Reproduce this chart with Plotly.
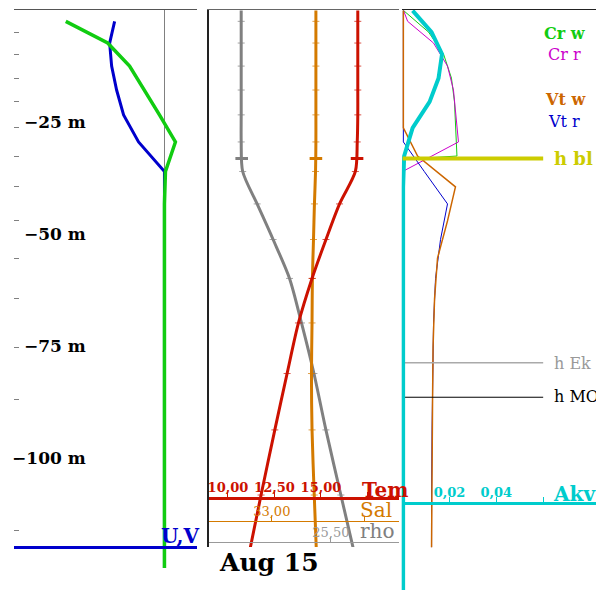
import plotly.graph_objects as go

W, H = 596, 590
SERIF = "DejaVu Serif"

# ---------------- data ----------------
# model layer interfaces / centres (m)
interface_depth = [4.8, 9.7, 15.1, 20.4, 26.2, 32.5, 39.4, 47.0, 55.3, 64.4, 75.2, 87.0, 100.4, 116.1]
center_depth = [2.4, 7.25, 12.4, 17.75, 23.3, 29.35, 35.95, 43.2, 51.15, 59.85, 69.8, 81.1, 93.7, 108.25, 124.55]

# velocities (m/s) at layer centres
u_vel = [-0.050, -0.055, -0.053, -0.048, -0.041, -0.026, 0.0, 0.0, 0.0, 0.0, 0.0, 0.0, 0.0, 0.0, 0.0]
v_vel = [-0.099, -0.057, -0.035, -0.020, -0.005, 0.011, 0.001, 0.0, 0.0, 0.0, 0.0, 0.0, 0.0, 0.0, 0.0]

# temperature / salinity / density, surface + layer centres
ts_depth = [0.0] + center_depth
temp = [16.98, 16.98, 16.98, 16.98, 16.98, 16.98, 16.95, 16.85, 16.00, 15.27, 14.52, 13.79, 13.18, 12.52, 11.78, 10.98]
salt = [33.239, 33.239, 33.239, 33.239, 33.239, 33.239, 33.239, 33.237, 33.231, 33.226, 33.220, 33.218, 33.215, 33.218, 33.230, 33.245]
rho = [24.60, 24.60, 24.60, 24.60, 24.60, 24.60, 24.60, 24.615, 24.76, 24.92, 25.085, 25.205, 25.33, 25.45, 25.60, 25.77]
ts_marker_size = [0] + [5] * 15

# boundary-layer values on the T/S/rho curves
hbl_temp, hbl_salt, hbl_rho = 16.94, 33.239, 24.605

# vertical diffusivity at interfaces
akv_depth = [0.0] + interface_depth + [133.0]
akv = [0.00426, 0.01234, 0.01681, 0.01532, 0.01149, 0.00426, 0.00064,
       0.0002, 0.0002, 0.0002, 0.0002, 0.0002, 0.0002, 0.0002, 0.0002, 0.0002]

crw_depth = [0.0, 4.8, 9.7, 15.1, 20.4, 26.2, 32.5, 33.05, 33.2]
crw = [0.00043, 0.01106, 0.01745, 0.02085, 0.02213, 0.02277, 0.02319, 0.00638, 0.0002]
crr_depth = [0.0, 2.4, 7.25, 12.4, 17.75, 23.3, 29.35, 35.95]
crr = [0.0004, 0.00213, 0.01319, 0.01915, 0.02170, 0.02277, 0.02383, 0.0]
vtw_depth = [0.0, 26.2, 32.5, 39.4, 47.0, 55.3, 64.4, 75.2, 87.0, 100.4, 116.1, 119.9]
vtw = [0.0003, 0.0003, 0.00638, 0.02255, 0.01915, 0.01489, 0.01362, 0.01298, 0.01277, 0.01255, 0.01234, 0.01234]
vtr_depth = [0.0, 29.35, 35.95, 43.2, 51.15, 59.85, 69.8, 81.1, 93.7, 108.25, 119.9]
vtr = [0.0003, 0.0003, 0.00923, 0.01915, 0.01617, 0.01404, 0.01319, 0.01277, 0.01255, 0.01234, 0.01234]

h_bl, h_ek, h_mo = 33.05, 78.7, 86.4
h_line_x = [0.0, 0.06]

depth_labels = [-25, -50, -75, -100]
depth_ticktext = ["\u221225 m", "\u221250 m", "\u221275 m", "\u2212100 m"]
temp_ticks, temp_ticktext = [10.0, 12.5, 15.0, 17.5], ["10,00", "12,50", "15,00", ""]
salt_ticks, salt_ticktext = [33.0, 33.5], ["33,00", ""]
rho_ticks, rho_ticktext = [25.5], ["25,50"]
akv_ticks, akv_ticktext = [0.02, 0.04, 0.06], ["0,02", "0,04", ""]

# ---------------- colours ----------------
RED, ORANGE, GREY = "#cc1100", "#d47a00", "#808080"
BLUE, GREEN, CYAN = "#0000cc", "#11cc11", "#00cccc"
MAGENTA, YELLOW, VTW = "#cc00cc", "#cccc00", "#cc6600"

neg = lambda a: [-v for v in a]

# ---------------- axis ranges ----------------
uv_range = [-0.151, 0.033]
temp_range = [8.998, 19.177]
salt_range = [32.6614, 33.6874]
rho_range = [24.28, 26.18]
akv_range = [-0.000426, 0.082553]
y1_range = [-124.56, 0.134]
y2_range = [-119.866, 0.134]
y3_range = [-129.475, 0.134]

fig = go.Figure()

# panel 1: U, V
fig.add_trace(go.Scatter(x=u_vel, y=neg(center_depth), xaxis="x", yaxis="y", mode="lines",
                         line=dict(color=BLUE, width=3)))
fig.add_trace(go.Scatter(x=[], y=[], xaxis="x", yaxis="y4", mode="lines"))
fig.add_trace(go.Scatter(x=v_vel, y=neg(center_depth), xaxis="x4", yaxis="y", mode="lines",
                         line=dict(color=GREEN, width=3.5)))

# panel 2: rho, S, T
def ts_trace(vals, color, xa):
    return go.Scatter(x=vals, y=neg(ts_depth), xaxis=xa, yaxis="y2", mode="lines+markers",
                      line=dict(color=color, width=3, shape="spline", smoothing=0.8),
                      marker=dict(symbol="line-ew", size=ts_marker_size,
                                  line=dict(color=color, width=1)))

fig.add_trace(go.Scatter(x=[hbl_temp], y=[-h_bl], xaxis="x2", yaxis="y2", mode="markers",
                         marker=dict(symbol="line-ew", size=9, line=dict(color=RED, width=3))))
fig.add_trace(ts_trace(rho, GREY, "x5"))
fig.add_trace(go.Scatter(x=[hbl_rho], y=[-h_bl], xaxis="x5", yaxis="y2", mode="markers",
                         marker=dict(symbol="line-ew", size=9, line=dict(color=GREY, width=3))))
fig.add_trace(ts_trace(salt, ORANGE, "x6"))
fig.add_trace(go.Scatter(x=[hbl_salt], y=[-h_bl], xaxis="x6", yaxis="y2", mode="markers",
                         marker=dict(symbol="line-ew", size=9, line=dict(color=ORANGE, width=3))))
fig.add_trace(ts_trace(temp, RED, "x7"))

# panel 3
fig.add_trace(go.Scatter(x=crw, y=neg(crw_depth), xaxis="x3", yaxis="y3", mode="lines",
                         line=dict(color=GREEN, width=1)))
fig.add_trace(go.Scatter(x=crr, y=neg(crr_depth), xaxis="x3", yaxis="y3", mode="lines",
                         line=dict(color=MAGENTA, width=1)))
fig.add_trace(go.Scatter(x=vtr, y=neg(vtr_depth), xaxis="x3", yaxis="y3", mode="lines",
                         line=dict(color=BLUE, width=1)))
fig.add_trace(go.Scatter(x=vtw, y=neg(vtw_depth), xaxis="x3", yaxis="y3", mode="lines",
                         line=dict(color=VTW, width=1.5)))
fig.add_trace(go.Scatter(x=h_line_x, y=[-h_ek, -h_ek], xaxis="x3", yaxis="y3", mode="lines",
                         line=dict(color="#aaaaaa", width=1.5)))
fig.add_trace(go.Scatter(x=h_line_x, y=[-h_mo, -h_mo], xaxis="x3", yaxis="y3", mode="lines",
                         line=dict(color="black", width=1)))
fig.add_trace(go.Scatter(x=akv, y=neg(akv_depth), xaxis="x8", yaxis="y3", mode="lines",
                         line=dict(color=CYAN, width=4)))
fig.add_trace(go.Scatter(x=h_line_x, y=[-h_bl, -h_bl], xaxis="x8", yaxis="y3", mode="lines",
                         line=dict(color=YELLOW, width=4)))

def hidden(**kw):
    d = dict(showgrid=False, zeroline=False, showticklabels=False, ticks="", fixedrange=True)
    d.update(kw)
    return d

def bottom_axis(over, pos_px, rng, color, width, tickvals, ticktext, bold):
    return dict(overlaying=over, anchor="free", position=(H - pos_px) / H, side="top",
                range=rng, showline=True, linecolor=color, linewidth=width,
                showgrid=False, zeroline=False, fixedrange=True,
                ticks="outside", ticklen=5, tickwidth=1, tickcolor=color,
                ticklabelstandoff=-5,
                tickvals=tickvals, ticktext=ticktext, showticklabels=True,
                tickfont=dict(family=SERIF, size=13, color=color,
                              weight="bold" if bold else "normal"))

top = (H - 10) / H
layout = dict(
    width=W, height=H, autosize=False,
    margin=dict(l=0, r=0, t=0, b=0, pad=0),
    paper_bgcolor="white", plot_bgcolor="white", showlegend=False,
    xaxis=hidden(domain=[12 / W, 196 / W], range=uv_range, side="top", anchor="y",
                 showline=True, linecolor="#555555", linewidth=1.5,
                 zeroline=True, zerolinecolor="#808080", zerolinewidth=1.5),
    xaxis4=hidden(overlaying="x", anchor="free", position=(H - 547) / H, range=uv_range,
                  showline=True, linecolor=BLUE, linewidth=3),
    yaxis=hidden(domain=[22 / H, top], range=y1_range, anchor="x",
                 ticks="inside", ticklen=5, tickwidth=1, tickcolor="#808080",
                 tickvals=neg(interface_depth)),
    yaxis4=dict(overlaying="y", anchor="free", position=84 / W, side="left", range=y1_range,
                showgrid=False, zeroline=False, showline=False, ticks="", fixedrange=True,
                tickvals=depth_labels, ticktext=depth_ticktext,
                tickfont=dict(family=SERIF, size=17, color="black", weight="bold")),
    xaxis2=hidden(domain=[208 / W, 398 / W], range=temp_range, side="top", anchor="y2",
                  showline=True, linecolor="#666666", linewidth=1.5),
    yaxis2=hidden(domain=[43 / H, top], range=y2_range, anchor="x2",
                  showline=True, linecolor="#222222", linewidth=2),
    xaxis5=bottom_axis("x2", 541.7, rho_range, "#999999", 1.5, rho_ticks, rho_ticktext, False),
    xaxis6=bottom_axis("x2", 520.7, salt_range, ORANGE, 1, salt_ticks, salt_ticktext, False),
    xaxis7=bottom_axis("x2", 498, temp_range, RED, 3, temp_ticks, temp_ticktext, True),
    xaxis3=hidden(domain=[401 / W, 1.0], range=akv_range, side="top", anchor="y3",
                  showline=True, linecolor="#222222", linewidth=1),
    yaxis3=hidden(domain=[0.0, top], range=y3_range, anchor="x3"),
    xaxis8=bottom_axis("x3", 503, akv_range, CYAN, 3, akv_ticks, akv_ticktext, True),
)
fig.update_layout(**layout)

def label(text, x, y, color, size, bold, xanchor="left"):
    fig.add_annotation(text=text, xref="paper", yref="paper", x=x / W, y=(H - y) / H,
                       xanchor=xanchor, yanchor="middle", showarrow=False,
                       font=dict(family=SERIF, size=size, color=color,
                                 weight="bold" if bold else "normal"))

label("Tem", 359, 490, RED, 20, True)
label("Sal", 357, 510, ORANGE, 20, False)
label("rho", 357, 531, GREY, 20, False)
label("U,V", 158, 536, BLUE, 20, True)
label("Akv", 551, 494, CYAN, 20, True)
label("Aug 15", 268, 562, "black", 25, True, "center")
label("Cr w", 565, 34, GREEN, 16, True, "center")
label("Cr r", 564, 55, MAGENTA, 16, False, "center")
label("Vt w", 565, 99, VTW, 16, True, "center")
label("Vt r", 564, 122, BLUE, 16, False, "center")
label("h bl", 552, 159, YELLOW, 18, True)
label("h Ek", 552, 363, "#999999", 16, False)
label("h MO", 552, 397, "black", 16, False)

fig.write_html("out.html", config={"displayModeBar": False, "staticPlot": True},
               post_script="document.body.style.margin='0';document.body.style.overflow='hidden';")
